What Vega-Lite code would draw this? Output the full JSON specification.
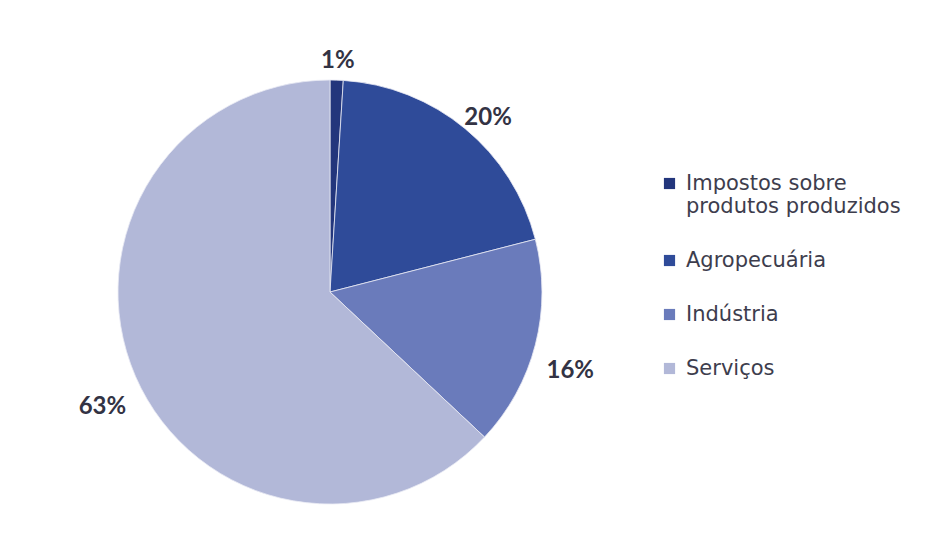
{
  "$schema": "https://vega.github.io/schema/vega-lite/v6.json",
  "autosize": {"type": "none"},
  "width": 424,
  "height": 424,
  "padding": {"left": 118, "top": 80, "right": 384, "bottom": 55},
  "background": "#ffffff",
  "config": {"view": {"stroke": null}},
  "data": {
    "values": [
      {"setor": "Impostos sobre produtos produzidos", "valor": 1, "ord": 1, "rotulo": "1%"},
      {"setor": "Agropecuária", "valor": 20, "ord": 2, "rotulo": "20%"},
      {"setor": "Indústria", "valor": 16, "ord": 3, "rotulo": "16%"},
      {"setor": "Serviços", "valor": 63, "ord": 4, "rotulo": "63%"}
    ]
  },
  "encoding": {
    "theta": {"field": "valor", "type": "quantitative", "stack": true},
    "order": {"field": "ord", "type": "quantitative"}
  },
  "layer": [
    {
      "mark": {"type": "arc", "outerRadius": 212, "stroke": "#e8eaf4", "strokeWidth": 0.8},
      "encoding": {
        "color": {
          "field": "setor",
          "type": "nominal",
          "scale": {
            "domain": ["Impostos sobre produtos produzidos", "Agropecuária", "Indústria", "Serviços"],
            "range": ["#23367c", "#2f4b99", "#6a7bbb", "#b2b8d8"]
          },
          "legend": {
            "title": null,
            "orient": "none",
            "legendX": 541,
            "legendY": 93,
            "symbolType": "square",
            "symbolSize": 125,
            "symbolStrokeWidth": 0,
            "labelFont": "DejaVu Sans",
            "labelFontSize": 21,
            "labelColor": "#3d3d4d",
            "labelLimit": 400,
            "labelOffset": 6,
            "rowPadding": 32,
            "labelExpr": "datum.label == 'Impostos sobre produtos produzidos' ? ['Impostos sobre', 'produtos produzidos'] : datum.label"
          }
        }
      }
    },
    {
      "mark": {"type": "text", "radius": 248, "dy": 17, "font": "Lato", "fontWeight": "bold", "fontSize": 24, "color": "#333344"},
      "encoding": {"text": {"field": "rotulo", "type": "nominal"}}
    }
  ]
}
